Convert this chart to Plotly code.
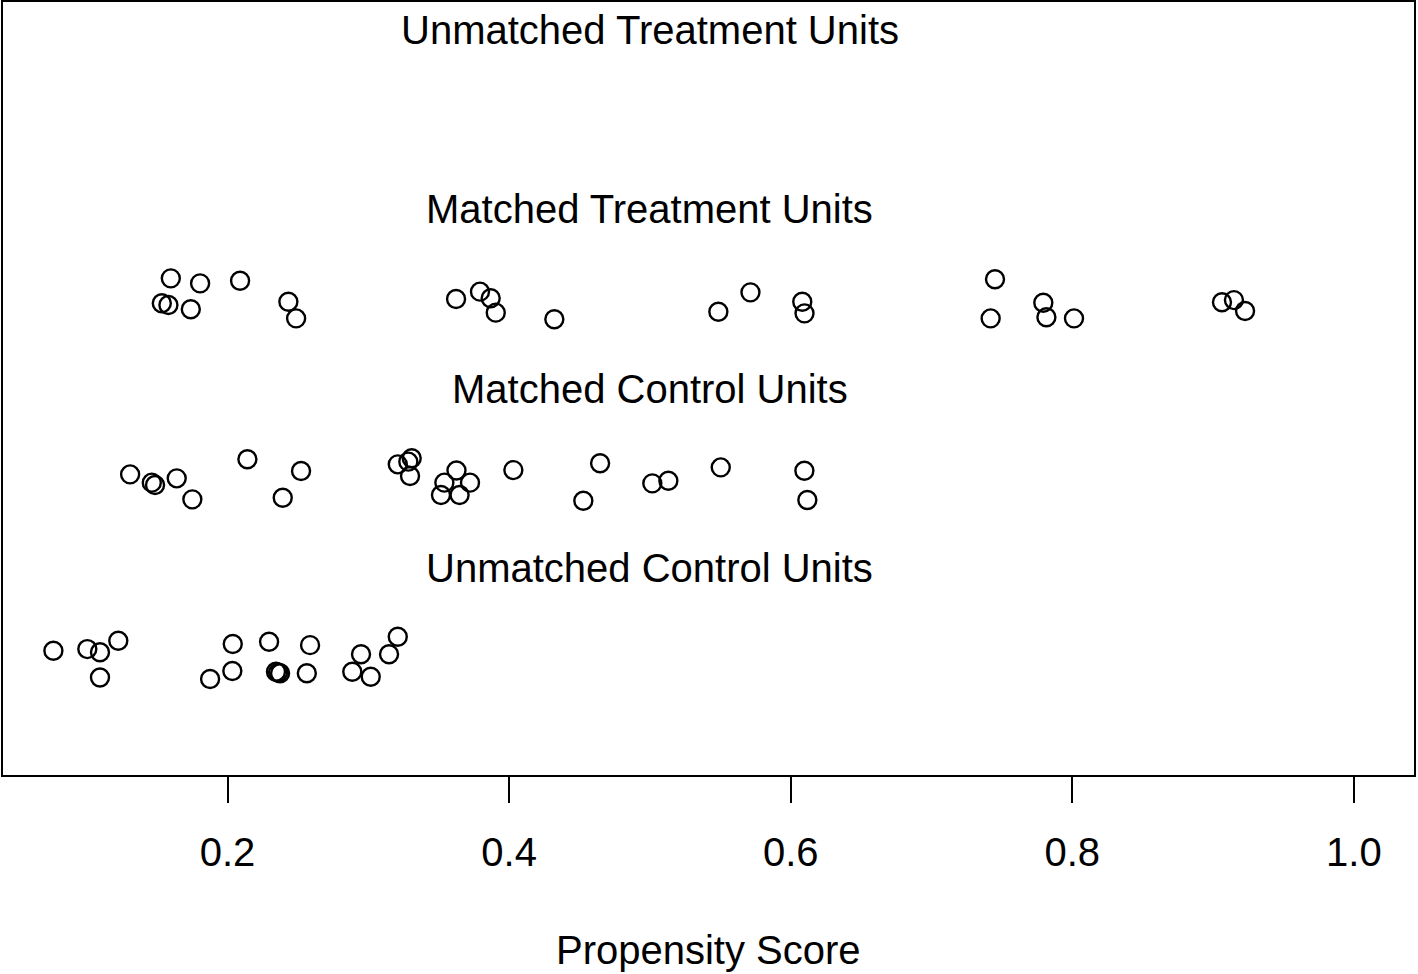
import plotly.graph_objects as go

# Matched treatment units (propensity score, jittered y)
mt_ps = [0.1597, 0.1805, 0.2089, 0.1533, 0.1580, 0.1739, 0.2432, 0.2487, 0.3623, 0.3793,
         0.3869, 0.3905, 0.4321, 0.5486, 0.5714, 0.6082, 0.6098, 0.7451, 0.7420, 0.7794,
         0.7816, 0.8012, 0.9063, 0.9148, 0.9227]
mt_y = [3.115, 3.087, 3.102, 2.976, 2.967, 2.943, 2.985, 2.892, 3.000, 3.041,
        3.004, 2.924, 2.887, 2.929, 3.037, 2.985, 2.920, 3.110, 2.892, 2.979,
        2.898, 2.892, 2.982, 2.994, 2.933]

# Matched control units
mc_ps = [0.1308, 0.1462, 0.1485, 0.1639, 0.1750, 0.2141, 0.2522, 0.2392, 0.3209, 0.3284,
         0.3308, 0.3296, 0.3540, 0.3626, 0.3722, 0.3516, 0.3648, 0.4030, 0.4646, 0.4527,
         0.5017, 0.5131, 0.5503, 0.6097, 0.6118]
mc_y = [2.023, 1.977, 1.964, 2.001, 1.884, 2.107, 2.042, 1.893, 2.079, 2.094,
        2.113, 2.014, 1.977, 2.045, 1.977, 1.908, 1.908, 2.047, 2.085, 1.876,
        1.973, 1.988, 2.062, 2.043, 1.880]

# Unmatched control units
uc_ps = [0.0763, 0.1004, 0.1094, 0.1224, 0.1094, 0.2037, 0.2295, 0.2586, 0.1876, 0.2034,
         0.2344, 0.2359, 0.2373, 0.2563, 0.2948, 0.2886, 0.3017, 0.3147, 0.3209]
uc_y = [1.041, 1.050, 1.032, 1.096, 0.892, 1.078, 1.091, 1.072, 0.883, 0.928,
        0.924, 0.919, 0.915, 0.915, 1.021, 0.924, 0.896, 1.021, 1.119]

group_labels = ["Unmatched Treatment Units", "Matched Treatment Units",
                "Matched Control Units", "Unmatched Control Units"]
label_y = [4.5, 3.5, 2.5, 1.5]

tick_vals = [0.2, 0.4, 0.6, 0.8, 1.0]
tick_text = ["0.2", "0.4", "0.6", "0.8", "1.0"]

FONT = "Liberation Sans, Arial, Helvetica, sans-serif"
marker = dict(symbol="circle-open", size=18, color="black", line=dict(width=2.4, color="black"))

fig = go.Figure()
for xs, ys in [(mt_ps, mt_y), (mc_ps, mc_y), (uc_ps, uc_y)]:
    fig.add_trace(go.Scatter(x=xs, y=ys, mode="markers", marker=marker,
                             showlegend=False, hoverinfo="x"))

for lab, yy in zip(group_labels, label_y):
    fig.add_annotation(x=0.5, y=yy, xref="x", yref="y", text=lab, showarrow=False,
                       font=dict(family=FONT, size=40, color="black"),
                       xanchor="center", yanchor="middle")

fig.add_annotation(x=0.5, y=-0.2245, xref="paper", yref="paper", text="Propensity Score",
                   showarrow=False, font=dict(family=FONT, size=40, color="black"),
                   xanchor="center", yanchor="middle")

fig.add_shape(type="rect", xref="paper", yref="paper", x0=0, y0=0, x1=1, y1=1,
              line=dict(color="black", width=2))

fig.update_xaxes(range=[0.0398, 1.0434], tickvals=tick_vals, ticktext=tick_text,
                 ticks="outside", ticklen=26, tickwidth=2, tickcolor="black",
                 showgrid=False, zeroline=False, showline=False,
                 tickfont=dict(family=FONT, size=40, color="black"),
                 ticklabelstandoff=15)
fig.update_yaxes(range=[0.343, 4.66], visible=False, showgrid=False, zeroline=False)

fig.update_layout(width=1418, height=974, autosize=False,
                  margin=dict(l=2, r=3, t=1, b=198, pad=0),
                  plot_bgcolor="white", paper_bgcolor="white")

fig.write_html("out.html", config={"displayModeBar": False},
               post_script="document.body.style.margin='0';document.body.style.overflow='hidden';")
